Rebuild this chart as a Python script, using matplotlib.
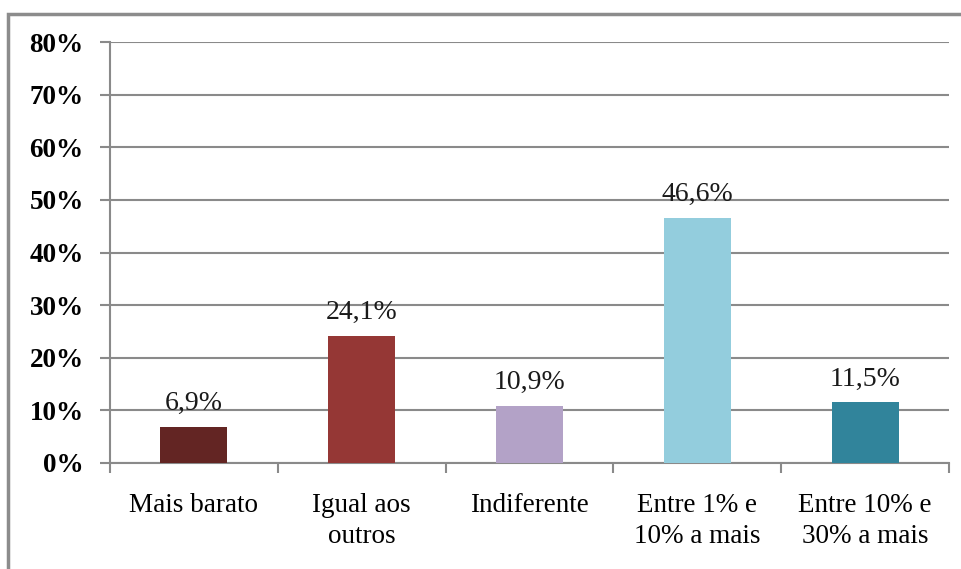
import matplotlib
matplotlib.use('Agg')
import matplotlib.pyplot as plt
from matplotlib.patches import Rectangle
import numpy as np

# Chart data
categories = ['Mais barato', 'Igual aos\noutros', 'Indiferente',
              'Entre 1% e\n10% a mais', 'Entre 10% e\n30% a mais']
values = [6.9, 24.1, 10.9, 46.6, 11.5]
value_labels = ['6,9%', '24,1%', '10,9%', '46,6%', '11,5%']
bar_colors = ['#632523', '#953735', '#B3A2C7', '#93CDDD', '#31849B']
y_ticks = [0, 10, 20, 30, 40, 50, 60, 70, 80]
y_tick_labels = [f'{t}%' for t in y_ticks]

serif = ['Liberation Serif', 'DejaVu Serif']
plt.rcParams['font.family'] = serif
plt.rcParams['font.serif'] = serif

fig = plt.figure(figsize=(9.62, 5.69), dpi=100)
W, H = 962, 569
ax = fig.add_axes([110 / W, 1 - 463 / H, (949 - 110) / W, (463 - 42) / H])

x = np.arange(len(categories))
ax.bar(x, values, width=0.4, color=bar_colors, zorder=3)

for xi, v, lab in zip(x, values, value_labels):
    ax.text(xi, v + 2.1, lab, ha='center', va='bottom', fontsize=20,
            fontfamily='Liberation Serif', color='#1a1a1a')

ax.set_xlim(-0.5, len(categories) - 0.5)
ax.set_ylim(0, 80)
ax.set_yticks(y_ticks)
ax.set_yticklabels(y_tick_labels, fontsize=19.5, fontweight='bold',
                   fontfamily='Liberation Serif')
ax.yaxis.grid(True, color='#8a8a8a', linewidth=1.5, zorder=0)

# boundary ticks between categories, names written underneath
ax.set_xticks(np.arange(-0.5, len(categories)))
ax.set_xticklabels([])
ax.tick_params(axis='x', length=7, width=1.5, color='#8a8a8a')
ax.tick_params(axis='y', length=7, width=1.5, color='#8a8a8a', pad=12)
for xi, name in zip(x, categories):
    ax.text(xi, -5.7, name, ha='center', va='top', fontsize=19.5,
            fontfamily='Liberation Serif', linespacing=1.32,
            transform=ax.transData, clip_on=False)

for s in ['top', 'right']:
    ax.spines[s].set_visible(False)
for s in ['left', 'bottom']:
    ax.spines[s].set_color('#8a8a8a')
    ax.spines[s].set_linewidth(1.5)

# outer chart frame
fig.patches.append(Rectangle((8 / W, -0.1), 1.1, 1 - 14 / H + 0.1,
                             transform=fig.transFigure, fill=False,
                             edgecolor='#8c8c8c', linewidth=2.5))

fig.savefig('out.png', dpi=100)
